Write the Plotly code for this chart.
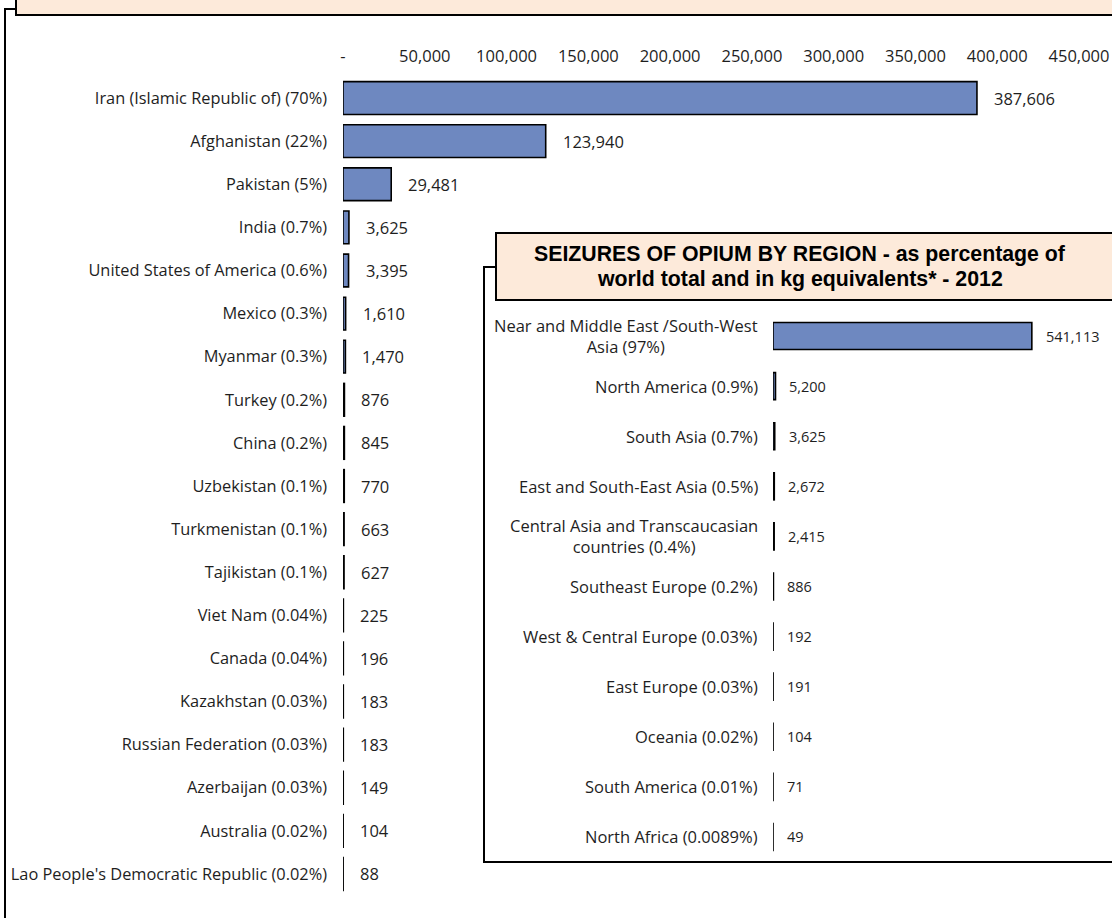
import plotly.graph_objects as go

# ---------------- data ----------------
countries = [
    "Iran (Islamic Republic of)", "Afghanistan", "Pakistan", "India",
    "United States of America", "Mexico", "Myanmar", "Turkey", "China",
    "Uzbekistan", "Turkmenistan", "Tajikistan", "Viet Nam", "Canada",
    "Kazakhstan", "Russian Federation", "Azerbaijan", "Australia",
    "Lao People's Democratic Republic",
]
country_pct = ["70%", "22%", "5%", "0.7%", "0.6%", "0.3%", "0.3%", "0.2%", "0.2%",
               "0.1%", "0.1%", "0.1%", "0.04%", "0.04%", "0.03%", "0.03%", "0.03%",
               "0.02%", "0.02%"]
country_kg = [387606, 123940, 29481, 3625, 3395, 1610, 1470, 876, 845,
              770, 663, 627, 225, 196, 183, 183, 149, 104, 88]

x_tickvals = [0, 50000, 100000, 150000, 200000, 250000, 300000, 350000, 400000, 450000]
x_ticktext = ["-", "50,000", "100,000", "150,000", "200,000", "250,000",
              "300,000", "350,000", "400,000", "450,000"]

regions = [
    "Near and Middle East /South-West<br>Asia", "North America", "South Asia",
    "East and South-East Asia", "Central Asia and Transcaucasian<br>countries",
    "Southeast Europe", "West & Central Europe", "East Europe", "Oceania",
    "South America", "North Africa",
]
region_pct = ["97%", "0.9%", "0.7%", "0.5%", "0.4%", "0.2%", "0.03%", "0.03%",
              "0.02%", "0.01%", "0.0089%"]
region_kg = [541113, 5200, 3625, 2672, 2415, 886, 192, 191, 104, 71, 49]

inset_title_lines = ["SEIZURES OF OPIUM BY REGION - as percentage of",
                     "world total and in kg equivalents* - 2012"]

# ---------------- styling helpers ----------------
W, H = 1112, 918
def px(x):
    return x / W
def py(y):
    return 1 - y / H

BAR_BLUE = "#6E88C0"
PEACH = "#FDEADA"
TXT = "#1e1e1e"
FONT = "Open Sans"

country_labels = [f"{c} ({p})" for c, p in zip(countries, country_pct)]
region_labels = [f"{r} ({p})" for r, p in zip(regions, region_pct)]

fig = go.Figure()

fig.add_trace(go.Bar(
    x=country_kg, y=country_labels, orientation="h",
    marker=dict(color=BAR_BLUE, line=dict(color="black", width=1.6)),
    width=0.76, xaxis="x", yaxis="y", hoverinfo="x+y",
))
fig.add_trace(go.Bar(
    x=region_kg, y=region_labels, orientation="h",
    marker=dict(color=BAR_BLUE, line=dict(color="black", width=1.6)),
    width=0.54, xaxis="x2", yaxis="y2", hoverinfo="x+y",
))

annotations = []
for v, lab in zip(country_kg, country_labels):
    annotations.append(dict(x=v, y=lab, xref="x", yref="y", text=f"{v:,}",
                            showarrow=False, xanchor="left", xshift=15,
                            font=dict(family=FONT, size=16.5, color=TXT)))
for v, lab in zip(region_kg, region_labels):
    annotations.append(dict(x=v, y=lab, xref="x2", yref="y2", text=f"{v:,}",
                            showarrow=False, xanchor="left", xshift=12,
                            font=dict(family=FONT, size=14.5, color=TXT)))
    annotations.append(dict(x=0, y=lab, xref="x2", yref="y2", text=lab,
                            showarrow=False, xanchor="right", xshift=-13,
                            align="center",
                            font=dict(family=FONT, size=16.5, color=TXT)))

for txt, yy in zip(inset_title_lines, [254, 279]):
    annotations.append(dict(x=px(800), y=py(yy), xref="paper", yref="paper",
                            text="<b>" + txt + "</b>", showarrow=False,
                            xanchor="center", yanchor="middle",
                            font=dict(family="Liberation Sans, Arial", size=21.3, color="black")))

line = dict(color="black", width=2)
noline = dict(width=0)
shapes = [
    # top title box fill (mostly cut off) + visible borders
    dict(type="rect", xref="paper", yref="paper",
         x0=px(16), x1=1, y0=py(15), y1=1,
         fillcolor=PEACH, line=noline, layer="above"),
    dict(type="path", xref="paper", yref="paper",
         path=f"M {px(16)} 1 L {px(16)} {py(15)} L 1 {py(15)}",
         line=line, layer="above"),
    # outer frame (top-left step and left edge)
    dict(type="path", xref="paper", yref="paper",
         path=f"M {px(16)} {py(9)} L {px(5)} {py(9)} L {px(5)} 0",
         line=line, layer="above"),
    # inset frame
    dict(type="path", xref="paper", yref="paper",
         path=f"M {px(496)} {py(267)} L {px(484)} {py(267)} L {px(484)} {py(862)} L 1 {py(862)}",
         line=line, layer="above"),
    # inset title box
    dict(type="rect", xref="paper", yref="paper",
         x0=px(496), x1=1, y0=py(300), y1=py(233),
         fillcolor=PEACH, line=noline, layer="above"),
    dict(type="path", xref="paper", yref="paper",
         path=f"M 1 {py(233)} L {px(496)} {py(233)} L {px(496)} {py(300)} L 1 {py(300)}",
         line=line, layer="above"),
]

fig.update_layout(
    width=W, height=H,
    margin=dict(l=0, r=0, t=0, b=0, pad=0, autoexpand=False),
    paper_bgcolor="white", plot_bgcolor="rgba(0,0,0,0)",
    showlegend=False,
    font=dict(family=FONT, size=16, color=TXT),
    xaxis=dict(domain=[px(343), px(1079)], range=[0, 450000], side="top",
               anchor="y", tickvals=x_tickvals, ticktext=x_ticktext, automargin=False,
               showgrid=False, zeroline=False, showline=False, ticks="",
               ticklabelstandoff=10, tickfont=dict(family=FONT, size=16.5, color=TXT)),
    yaxis=dict(domain=[py(895.5), py(76.5)], autorange="reversed", type="category",
               anchor="x", automargin=False,
               showgrid=False, zeroline=False, showline=False, ticks="",
               ticklabelstandoff=15, tickfont=dict(family=FONT, size=16.35, color=TXT)),
    xaxis2=dict(domain=[px(773), px(1060)], range=[0, 600000], anchor="y2",
                visible=False, automargin=False),
    yaxis2=dict(domain=[py(862), py(311)], autorange="reversed", type="category",
                anchor="x2", visible=False, automargin=False),
    annotations=annotations,
    shapes=shapes,
)

post = (
    "document.documentElement.style.overflow='hidden';"
    "document.body.style.margin='0';document.body.style.overflow='hidden';"
    "var d=document.getElementById('{plot_id}');"
    "d.style.position='fixed';d.style.left='0px';d.style.top='0px';"
)

fig.write_html(
    "out.html",
    config={"responsive": False, "displayModeBar": False},
    post_script=post,
)
